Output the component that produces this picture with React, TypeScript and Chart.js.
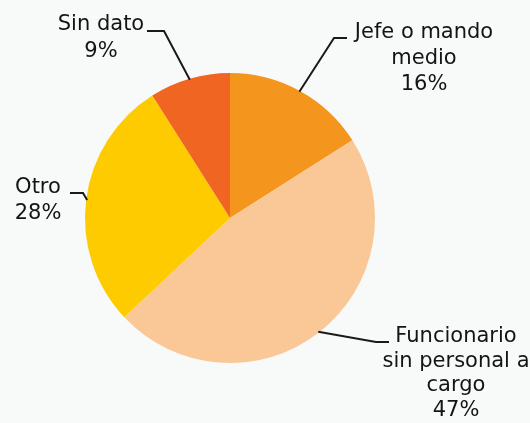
import React, { useEffect, useRef } from "react";
import { Chart, registerables } from "chart.js";

Chart.register(...registerables);

const categories = ["Jefe o mando medio", "Funcionario sin personal a cargo", "Otro", "Sin dato"];
const values = [16, 47, 28, 9];
const labelLines = [
  ["Jefe o mando", "medio", "16%"],
  ["Funcionario", "sin personal a", "cargo", "47%"],
  ["Otro", "28%"],
  ["Sin dato", "9%"],
];
const colors = ["#F4961E", "#FAC896", "#FDCB00", "#EF6521"];

// leader line elbow/end and text anchor per slice (layout)
const labelLayout = [
  { elbow: [334, 38], end: [347, 38], tx: 424, ty: 33, gap: 26 },
  { elbow: [376, 342], end: [389, 342], tx: 456, ty: 337, gap: 24.5 },
  { elbow: [83, 193], end: [70, 193], tx: 38, ty: 188, gap: 26 },
  { elbow: [164, 31], end: [147, 31], tx: 101, ty: 25, gap: 27 },
];

const labelPlugin = {
  id: "leaderLabels",
  afterDraw(chart: any) {
    const ctx = chart.ctx;
    const meta = chart.getDatasetMeta(0);
    ctx.save();
    meta.data.forEach((arc: any, i: number) => {
      const { x, y, startAngle, endAngle, outerRadius } = arc.getProps(
        ["x", "y", "startAngle", "endAngle", "outerRadius"],
        true
      );
      const mid = (startAngle + endAngle) / 2;
      const sx = x + Math.cos(mid) * (outerRadius - 1);
      const sy = y + Math.sin(mid) * (outerRadius - 1);
      const L = labelLayout[i];
      ctx.strokeStyle = "#1a1a1a";
      ctx.lineWidth = 2;
      ctx.beginPath();
      ctx.moveTo(sx, sy);
      ctx.lineTo(L.elbow[0], L.elbow[1]);
      ctx.lineTo(L.end[0], L.end[1]);
      ctx.stroke();
      ctx.fillStyle = "#141414";
      ctx.font = "21px 'DejaVu Sans', sans-serif";
      ctx.textAlign = "center";
      ctx.textBaseline = "middle";
      labelLines[i].forEach((t, k) => {
        ctx.fillText(t, L.tx, L.ty + k * L.gap);
      });
    });
    ctx.restore();
  },
};

export default function App() {
  const ref = useRef<HTMLCanvasElement>(null);
  useEffect(() => {
    document.body.style.margin = "0";
    document.body.style.background = "#F8F9F9";
    const chart = new Chart(ref.current!, {
      type: "pie",
      data: {
        labels: categories,
        datasets: [
          {
            data: values,
            backgroundColor: colors,
            borderWidth: 0,
          },
        ],
      },
      options: {
        responsive: false,
        animation: false,
        layout: { padding: { left: 85, right: 155, top: 73, bottom: 60 } },
        plugins: { legend: { display: false }, tooltip: { enabled: false } },
      },
      plugins: [labelPlugin],
    });
    return () => chart.destroy();
  }, []);
  return (
    <div style={{ width: 530, height: 423, background: "#F8F9F9" }}>
      <canvas ref={ref} width={530} height={423} />
    </div>
  );
}
